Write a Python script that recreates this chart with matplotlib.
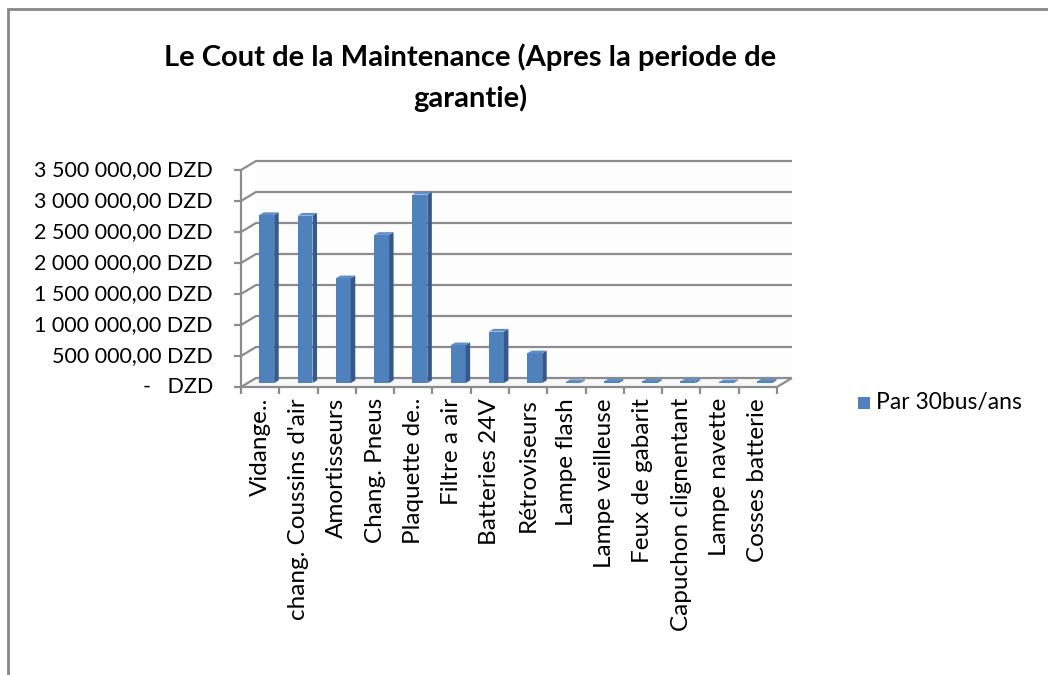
import matplotlib.pyplot as plt
from matplotlib.patches import Polygon, Rectangle
from matplotlib.transforms import IdentityTransform, ScaledTranslation

plt.rcParams['font.family'] = ['Lato', 'DejaVu Sans']

# data
categories = ['Vidange..', "chang. Coussins d'air", 'Amortisseurs', 'Chang. Pneus',
              'Plaquette de..', 'Filtre a air', 'Batteries 24V', 'Rétroviseurs',
              'Lampe flash', 'Lampe veilleuse', 'Feux de gabarit',
              'Capuchon clignentant', 'Lampe navette', 'Cosses batterie']
values = [2710000, 2700000, 1690000, 2390000, 3040000, 610000, 830000, 480000,
          15000, 25000, 25000, 25000, 12000, 25000]
y_ticks = [0, 500000, 1000000, 1500000, 2000000, 2500000, 3000000, 3500000]
y_tick_labels = ['-   DZD', '500 000,00 DZD', '1 000 000,00 DZD', '1 500 000,00 DZD',
                 '2 000 000,00 DZD', '2 500 000,00 DZD', '3 000 000,00 DZD',
                 '3 500 000,00 DZD']
series_name = 'Par 30bus/ans'
title = 'Le Cout de la Maintenance (Apres la periode de\ngarantie)'

W, H = 1048, 675
fig = plt.figure(figsize=(W / 100, H / 100), dpi=100)
fig.patch.set_facecolor('white')

# front plane of the 3d box
ax = fig.add_axes([241 / W, 1 - 387 / H, (777 - 241) / W, (387 - 170) / H])
n = len(categories)
ax.set_xlim(0, n)
ax.set_ylim(0, y_ticks[-1])
ax.axis('off')

DX, DY = 15, 9  # depth of the box in pixels
grid_col = '#8c8c8c'
disp = IdentityTransform()


def px(x, y, d=0.0):
    # data point -> display pixel, pushed back by depth fraction d
    a, b = ax.transData.transform((x, y))
    return a + d * DX, b + d * DY


def poly(pts, **kw):
    p = Polygon(pts, closed=True, transform=disp, clip_on=False, **kw)
    ax.add_patch(p)


def line(pts, **kw):
    xs = [p[0] for p in pts]
    ys = [p[1] for p in pts]
    ax.plot(xs, ys, transform=disp, clip_on=False, solid_capstyle='butt', **kw)


# back wall + floor
poly([px(0, 0, 1), px(n, 0, 1), px(n, y_ticks[-1], 1), px(0, y_ticks[-1], 1)],
     facecolor='#fdfdfd', edgecolor='none', zorder=0)
poly([px(0, 0, 0), px(n, 0, 0), px(n, 0, 1), px(0, 0, 1)],
     facecolor='#f7f7f7', edgecolor='none', zorder=0)

# gridlines on the left wall and back wall
for t in y_ticks:
    line([px(0, t, 0), px(0, t, 1), px(n, t, 1)], color=grid_col, lw=1.6, zorder=1)
    x0, y0 = px(0, t, 0)
    line([(x0 - 7, y0), (x0, y0)], color=grid_col, lw=1.6, zorder=1)

# axis lines
line([px(0, 0, 0), px(0, y_ticks[-1], 0)], color=grid_col, lw=1.6, zorder=1)
line([px(0, 0, 0), px(n, 0, 0), px(n, 0, 1)], color=grid_col, lw=1.6, zorder=1)
for i in range(n + 1):
    x0, y0 = px(i, 0, 0)
    line([(x0, y0), (x0, y0 - 7)], color=grid_col, lw=1.6, zorder=1)

# 3d bars
bw = 0.39
d0, d1 = 0.44, 0.74
for i, v in enumerate(values):
    a = i + 0.5 - bw / 2
    b = i + 0.5 + bw / 2
    poly([px(a, 0, d0), px(b, 0, d0), px(b, v, d0), px(a, v, d0)],
         facecolor='#4f81bd', edgecolor='none', zorder=3)
    poly([px(b, 0, d0), px(b, 0, d1), px(b, v, d1), px(b, v, d0)],
         facecolor='#36598a', edgecolor='none', zorder=3)
    poly([px(a, v, d0), px(b, v, d0), px(b, v, d1), px(a, v, d1)],
         facecolor='#5f8fcb', edgecolor='none', zorder=3)

# tick labels
ylab_tr = ax.transData + ScaledTranslation(-0.28, 0, fig.dpi_scale_trans)
for t, lab in zip(y_ticks, y_tick_labels):
    ax.text(0, t, lab, transform=ylab_tr, ha='right', va='center',
            fontsize=15.5, color='black')

xlab_tr = ax.transData + ScaledTranslation(0, -0.11, fig.dpi_scale_trans)
for i, lab in enumerate(categories):
    ax.text(i + 0.5, 0, lab, transform=xlab_tr, rotation=90, ha='center',
            va='top', fontsize=17.5, color='black')

# legend
fig.patches.append(Rectangle((858 / W, 1 - 409 / H), 12 / W, 12 / H,
                             transform=fig.transFigure, facecolor='#4f81bd',
                             edgecolor='none'))
fig.text(876 / W, 1 - 403 / H, series_name, ha='left', va='center', fontsize=16.5)

# title
fig.text(470 / W, 1 - 78 / H, title, ha='center', va='center', fontsize=21,
         fontweight='bold', linespacing=1.6)

# chart frame (only top and left edges fall inside the picture)
fig.patches.append(Rectangle((8 / W, -0.1), 1.2, 1.1 - 9 / H,
                             transform=fig.transFigure, facecolor='none',
                             edgecolor='#878787', lw=2))

fig.savefig('out.png', dpi=100)
